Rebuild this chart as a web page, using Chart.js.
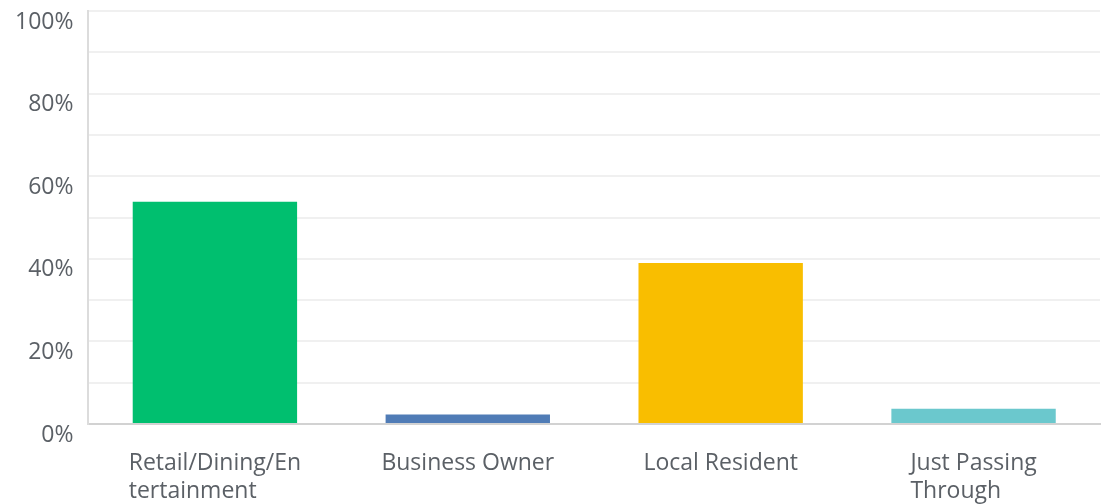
<!DOCTYPE html>
<html>
<head>
  <title>Respondents</title>
  <script src="https://cdn.jsdelivr.net/npm/chart.js"></script>
  <style>
    html, body { margin: 0; padding: 0; background: #fff; }
    #wrap { width: 1102px; height: 504px; }
  </style>
</head>
<body>
  <div id="wrap"><canvas id="chart1"></canvas></div>
  <script>
    // data
    const categories = [["Retail/Dining/En", "tertainment"], "Business Owner", "Local Resident", ["Just Passing", "Through"]];
    const percents = [53.8, 2.3, 39.0, 3.7];
    const barColors = ["#00bf6f", "#507cb6", "#f9be00", "#6bc8cd"];
    const yTicks = [0, 20, 40, 60, 80, 100];

    const labelFont = "23px 'Open Sans'";
    const labelColor = "#5b6066";

    // x labels: lines left aligned inside a centred block
    const xLabelPlugin = {
      id: "xLabels",
      afterDraw(chart) {
        const ctx = chart.ctx;
        const scale = chart.scales.x;
        const base = chart.chartArea.bottom;
        ctx.save();
        ctx.font = labelFont;
        ctx.fillStyle = labelColor;
        ctx.textAlign = "left";
        ctx.textBaseline = "middle";
        categories.forEach((lab, i) => {
          const lines = Array.isArray(lab) ? lab : [lab];
          const w = Math.max(...lines.map(l => ctx.measureText(l).width));
          const cx = scale.getPixelForTick(i);
          lines.forEach((l, j) => {
            ctx.fillText(l, cx - w / 2, base + 39 + 28 * j);
          });
        });
        ctx.restore();
      }
    };

    const ctx = document.getElementById("chart1").getContext("2d");
    new Chart(ctx, {
      type: "bar",
      data: {
        labels: categories,
        datasets: [{
          data: percents,
          backgroundColor: barColors,
          borderWidth: 0,
          categoryPercentage: 0.65,
          barPercentage: 1
        }]
      },
      options: {
        responsive: true,
        maintainAspectRatio: false,
        animation: false,
        layout: { padding: { top: 11, right: 2, left: 15, bottom: 80 } },
        plugins: { legend: { display: false }, tooltip: { enabled: false } },
        scales: {
          x: {
            grid: { display: false, drawTicks: false },
            border: { color: "#d2d2d2", width: 2 },
            ticks: { display: false }
          },
          y: {
            min: 0,
            max: 100,
            grid: { color: "#f0f0f0", lineWidth: 2, drawTicks: true, tickLength: 15, tickColor: "rgba(0,0,0,0)" },
            border: { color: "#dcdcdc", width: 2 },
            ticks: {
              stepSize: 10,
              padding: 0,
              labelOffset: 11,
              color: labelColor,
              font: { family: "Open Sans", size: 23, lineHeight: 0.3 },
              callback: v => yTicks.includes(v) ? v + "%" : ""
            }
          }
        }
      },
      plugins: [xLabelPlugin]
    });
  </script>
</body>
</html>
